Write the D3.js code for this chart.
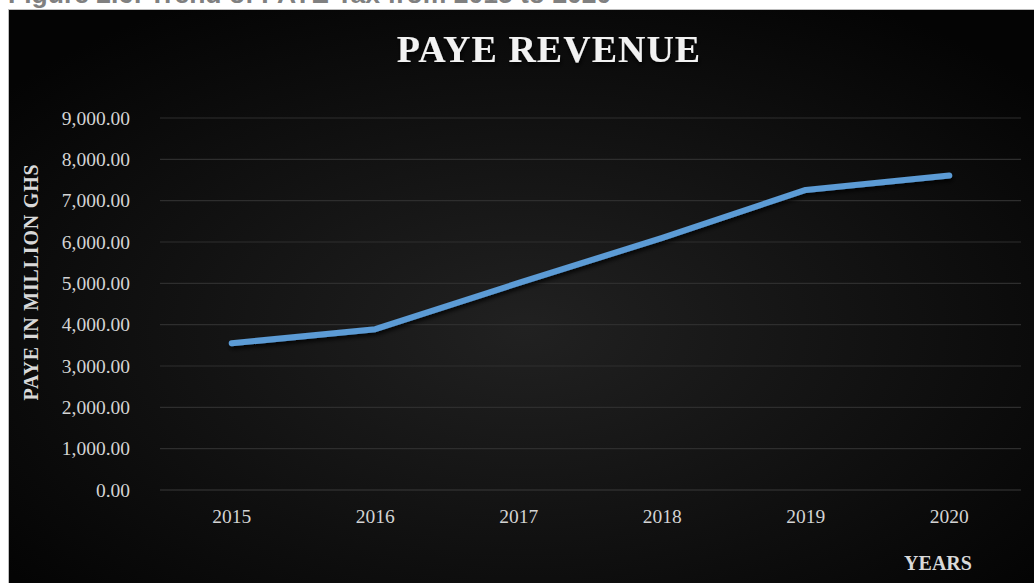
<!DOCTYPE html>
<html>
<head>
<meta charset="utf-8">
<script src="https://cdn.jsdelivr.net/npm/d3@7"></script>
<style>
  html, body { margin: 0; padding: 0; background: #ffffff; overflow: hidden; }
</style>
</head>
<body>
<div id="chart"></div>
<script>
// values
var years = ["2015", "2016", "2017", "2018", "2019", "2020"];
var paye = [3550, 3890, 5010, 6100, 7260, 7610];
var yTicks = [0, 1000, 2000, 3000, 4000, 5000, 6000, 7000, 8000, 9000];

(function () {
    var W = 1034, H = 583;
    var margin = { top: 118, right: 13, bottom: 93, left: 160 },
        width = W - margin.left - margin.right,
        height = H - margin.top - margin.bottom;

    var serif = "Liberation Serif, Times New Roman, serif";

    var svg = d3.select("#chart").append("svg")
        .attr("width", W)
        .attr("height", H);

    var defs = svg.append("defs");
    var grad = defs.append("radialGradient")
        .attr("id", "bg")
        .attr("cx", "50%").attr("cy", "55%").attr("r", "65%");
    grad.append("stop").attr("offset", "0%").attr("stop-color", "#212121");
    grad.append("stop").attr("offset", "100%").attr("stop-color", "#040404");

    var shadow = defs.append("filter").attr("id", "shadow")
        .attr("x", "-10%").attr("y", "-10%").attr("width", "120%").attr("height", "140%");
    shadow.append("feDropShadow").attr("dx", 1).attr("dy", 3).attr("stdDeviation", 2)
        .attr("flood-color", "#000").attr("flood-opacity", 0.8);

    // caption above the chart (cut off in the source)
    svg.append("text")
        .attr("x", 8).attr("y", 3)
        .style("font-family", "Liberation Sans, Arial, sans-serif")
        .style("font-size", "26.5px")
        .style("font-weight", "bold")
        .style("fill", "#808080")
        .text("Figure 2.6: Trend of PAYE Tax from 2015 to 2020");

    // chart area
    svg.append("rect")
        .attr("x", 8.5).attr("y", 9.5)
        .attr("width", W).attr("height", H)
        .attr("fill", "url(#bg)")
        .attr("stroke", "#bdbdbd")
        .attr("stroke-width", 1);

    var x = d3.scaleBand().domain(years).range([0, width]);
    var y = d3.scaleLinear().domain([0, 9000]).range([height, 0]);

    var g = svg.append("g")
        .attr("transform", "translate(" + margin.left + "," + margin.top + ")");

    // gridlines
    g.append("g")
        .selectAll("line")
        .data(yTicks)
        .enter().append("line")
        .attr("x1", 0).attr("x2", width)
        .attr("y1", function (d) { return y(d); })
        .attr("y2", function (d) { return y(d); })
        .attr("stroke", function (d) { return d === 0 ? "#3a3a3a" : "#2e2e2e"; })
        .attr("stroke-width", 1.2);

    // y axis
    var yAxis = d3.axisLeft(y)
        .tickValues(yTicks)
        .tickSize(0)
        .tickPadding(30)
        .tickFormat(d3.format(",.2f"));

    var ya = g.append("g").call(yAxis);
    ya.select(".domain").remove();
    ya.selectAll("text")
        .style("font-family", serif)
        .style("font-size", "19.5px")
        .style("fill", "#d4d4d4");

    // x axis
    var xAxis = d3.axisBottom(x).tickSize(0).tickPadding(19);
    var xa = g.append("g")
        .attr("transform", "translate(0," + height + ")")
        .call(xAxis);
    xa.select(".domain").remove();
    xa.selectAll("text")
        .style("font-family", serif)
        .style("font-size", "19.5px")
        .style("fill", "#d4d4d4");

    // line
    var line = d3.line()
        .x(function (d, i) { return x(years[i]) + x.bandwidth() / 2; })
        .y(function (d) { return y(d); });

    g.append("path")
        .datum(paye)
        .attr("d", line)
        .attr("fill", "none")
        .attr("stroke", "#5b9bd5")
        .attr("stroke-width", 6)
        .attr("stroke-linecap", "round")
        .attr("stroke-linejoin", "round")
        .attr("filter", "url(#shadow)");

    // title
    svg.append("text")
        .attr("x", 549).attr("y", 62)
        .attr("text-anchor", "middle")
        .attr("filter", "url(#shadow)")
        .style("font-family", serif)
        .style("font-size", "38px")
        .style("font-weight", "bold")
        .style("letter-spacing", "1px")
        .style("fill", "#f2f2f2")
        .text("PAYE REVENUE");

    // axis titles
    svg.append("text")
        .attr("transform", "translate(38,282) rotate(-90)")
        .attr("text-anchor", "middle")
        .style("font-family", serif)
        .style("font-size", "20px")
        .style("font-weight", "bold")
        .style("letter-spacing", "0.8px")
        .style("fill", "#d9d9d9")
        .text("PAYE IN MILLION GHS");

    svg.append("text")
        .attr("x", 938).attr("y", 570)
        .attr("text-anchor", "middle")
        .style("font-family", serif)
        .style("font-size", "20px")
        .style("font-weight", "bold")
        .style("fill", "#d9d9d9")
        .text("YEARS");
})();
</script>
</body>
</html>
